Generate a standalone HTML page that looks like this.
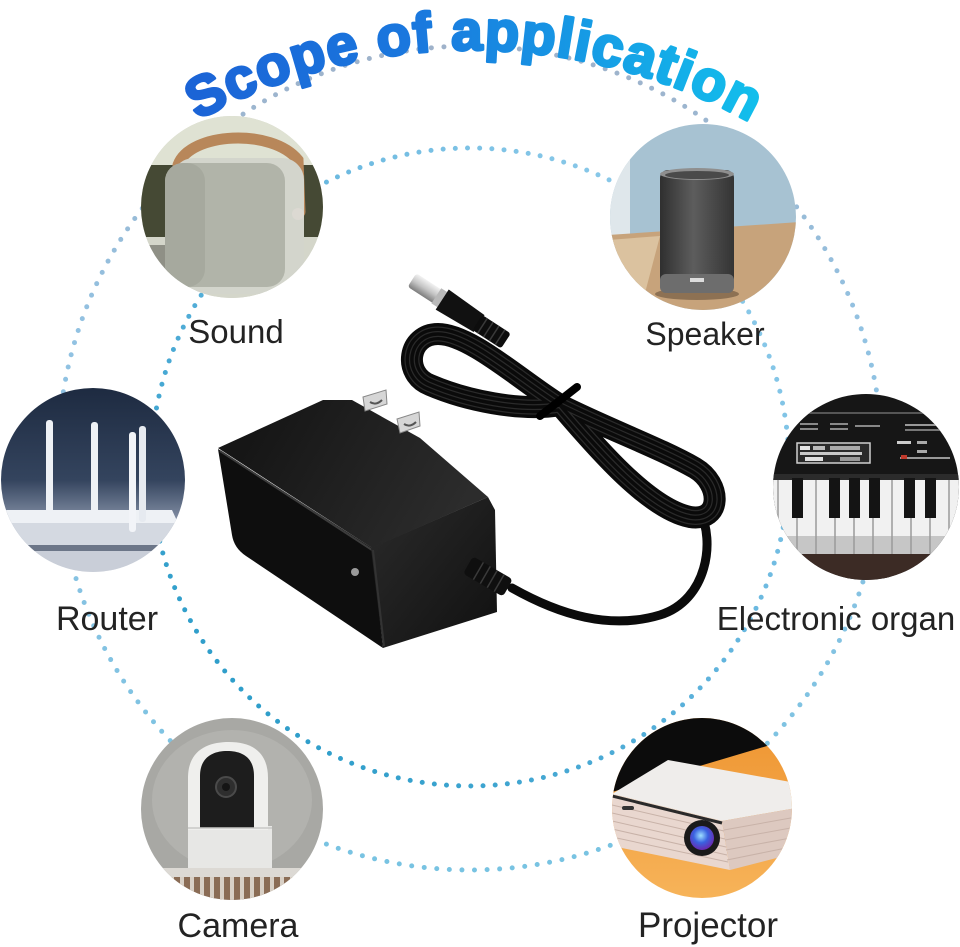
<!DOCTYPE html>
<html><head><meta charset="utf-8">
<style>
html,body{margin:0;padding:0;background:#fff;}
svg{display:block;}
.lbl{font-family:"Liberation Sans",Arial,sans-serif;fill:#232323;text-anchor:middle;}
</style></head><body>
<svg width="960" height="947" viewBox="0 0 960 947" xmlns="http://www.w3.org/2000/svg">
<defs>
  <linearGradient id="tg" gradientUnits="userSpaceOnUse" x1="185" y1="0" x2="765" y2="0">
    <stop offset="0" stop-color="#1b63d6"/>
    <stop offset="0.4" stop-color="#1a78de"/>
    <stop offset="1" stop-color="#12c0ec"/>
  </linearGradient>
  <linearGradient id="og" gradientUnits="userSpaceOnUse" x1="0" y1="46" x2="0" y2="870">
    <stop offset="0" stop-color="#9fb2ca"/>
    <stop offset="0.35" stop-color="#92c2e2"/>
    <stop offset="1" stop-color="#78c3e2"/>
  </linearGradient>
  <linearGradient id="ig" gradientUnits="userSpaceOnUse" x1="170" y1="780" x2="790" y2="150">
    <stop offset="0" stop-color="#1f97c4"/>
    <stop offset="0.5" stop-color="#5db2dc"/>
    <stop offset="1" stop-color="#9dd2ee"/>
  </linearGradient>
  <path id="arc" d="M 145 153 A 570 570 0 0 1 799 153"/>
  <path id="lp" d="M560 405 C520 380 470 334 438 334 C408 334 402 374 430 385 C465 400 520 412 560 405 Z"/>
  <path id="rp" d="M560 405 C610 430 660 448 695 468 C722 484 722 522 690 517 C650 509 600 452 560 405 Z"/>
  <clipPath id="c1"><circle cx="232" cy="207" r="91"/></clipPath>
  <clipPath id="c2"><circle cx="703" cy="217" r="93"/></clipPath>
  <clipPath id="c3"><circle cx="866" cy="487" r="93"/></clipPath>
  <clipPath id="c4"><circle cx="93" cy="480" r="92"/></clipPath>
  <clipPath id="c5"><circle cx="232" cy="809" r="91"/></clipPath>
  <clipPath id="c6"><circle cx="702" cy="808" r="90"/></clipPath>
  <linearGradient id="cyl" x1="0" y1="0" x2="1" y2="0">
    <stop offset="0" stop-color="#2f2f2f"/><stop offset="0.45" stop-color="#5d5d5d"/><stop offset="1" stop-color="#343434"/>
  </linearGradient>
  <linearGradient id="rbg" x1="0" y1="0" x2="0" y2="1">
    <stop offset="0" stop-color="#1d2a40"/><stop offset="0.5" stop-color="#34445e"/><stop offset="0.7" stop-color="#7e8aa0"/><stop offset="1" stop-color="#e0e4ea"/>
  </linearGradient>
  <linearGradient id="topf" gradientUnits="userSpaceOnUse" x1="260" y1="420" x2="450" y2="530">
    <stop offset="0" stop-color="#161616"/><stop offset="1" stop-color="#2c2c2c"/>
  </linearGradient>
  <linearGradient id="endf" gradientUnits="userSpaceOnUse" x1="380" y1="540" x2="495" y2="630">
    <stop offset="0" stop-color="#262626"/><stop offset="1" stop-color="#121212"/>
  </linearGradient>
  <linearGradient id="silv" x1="0" y1="0" x2="0" y2="1">
    <stop offset="0" stop-color="#f2f2f2"/><stop offset="0.5" stop-color="#c4c4c4"/><stop offset="1" stop-color="#7d7d7d"/>
  </linearGradient>
  <radialGradient id="lens" cx="0.45" cy="0.4" r="0.6">
    <stop offset="0" stop-color="#9fe0ff"/><stop offset="0.5" stop-color="#3a62e0"/><stop offset="1" stop-color="#6a2ab0"/>
  </radialGradient>
  <linearGradient id="pbg" x1="0" y1="0" x2="0" y2="1">
    <stop offset="0" stop-color="#ee9430"/><stop offset="1" stop-color="#f7b45a"/>
  </linearGradient>
</defs>

<rect width="960" height="947" fill="#fff"/>

<!-- dotted rings -->
<circle cx="470" cy="458" r="412" fill="none" stroke="url(#og)" stroke-width="5" stroke-linecap="round" stroke-dasharray="0 12.6"/>
<circle cx="470" cy="467" r="319" fill="none" stroke="url(#ig)" stroke-width="5" stroke-linecap="round" stroke-dasharray="0 12.2"/>

<!-- Sound -->
<g clip-path="url(#c1)">
  <rect x="140" y="115" width="185" height="185" fill="#cfd2c2"/>
  <rect x="140" y="115" width="185" height="50" fill="#dfe2d3"/>
  <rect x="140" y="165" width="185" height="72" fill="#454934"/>
  <rect x="140" y="237" width="185" height="63" fill="#d4d6ca"/>
  <rect x="145" y="245" width="30" height="30" fill="#8f9086"/>
  <path d="M178 165 C190 132 272 128 298 160 L300 212" fill="none" stroke="#b8875a" stroke-width="11" stroke-linecap="round"/>
  <rect x="172" y="158" width="132" height="136" rx="22" fill="#d3d5cc"/>
  <rect x="165" y="163" width="120" height="124" rx="18" fill="#b1b4a9"/>
  <rect x="165" y="163" width="40" height="124" rx="18" fill="#a6a99e"/>
  <circle cx="298" cy="214" r="6" fill="#dcd9d2"/>
</g>

<!-- Speaker -->
<g clip-path="url(#c2)">
  <rect x="608" y="122" width="190" height="190" fill="#a7c2d2"/>
  <rect x="608" y="160" width="22" height="75" fill="#dfe7eb"/>
  <polygon points="608,235 800,222 800,312 608,312" fill="#c7a37b"/>
  <polygon points="608,240 660,236 640,312 608,312" fill="#dbc29f"/>
  <ellipse cx="697" cy="294" rx="42" ry="6" fill="#8d7153"/>
  <rect x="660" y="170" width="74" height="123" rx="8" fill="url(#cyl)"/>
  <ellipse cx="697" cy="174" rx="37" ry="6" fill="#8f8f8f"/>
  <ellipse cx="697" cy="175" rx="32" ry="4" fill="#4a4a4a"/>
  <rect x="660" y="274" width="74" height="19" rx="6" fill="#6d6d6d"/>
  <rect x="690" y="278" width="14" height="4" fill="#dcdcdc"/>
</g>

<!-- Electronic organ -->
<g clip-path="url(#c3)">
  <rect x="770" y="392" width="192" height="192" fill="#161616"/>
  <rect x="790" y="412" width="160" height="2" fill="#555"/>
  <rect x="800" y="423" width="18" height="2" fill="#888"/>
  <rect x="800" y="428" width="18" height="2" fill="#888"/>
  <rect x="830" y="423" width="18" height="2" fill="#888"/>
  <rect x="830" y="428" width="18" height="2" fill="#888"/>
  <rect x="855" y="425" width="25" height="2" fill="#888"/>
  <rect x="905" y="424" width="40" height="2" fill="#999"/>
  <rect x="905" y="429" width="40" height="2" fill="#777"/>
  <rect x="797" y="443" width="73" height="20" fill="#2a2a2a" stroke="#cfcfcf" stroke-width="1.5"/>
  <rect x="800" y="446" width="10" height="4" fill="#e5e5e5"/>
  <rect x="813" y="446" width="12" height="4" fill="#bbb"/>
  <rect x="830" y="446" width="30" height="4" fill="#aaa"/>
  <rect x="800" y="452" width="62" height="3" fill="#c9c9c9"/>
  <rect x="805" y="457" width="18" height="4" fill="#e0e0e0"/>
  <rect x="840" y="457" width="20" height="4" fill="#999"/>
  <rect x="897" y="441" width="14" height="3" fill="#ccc"/>
  <rect x="917" y="441" width="10" height="3" fill="#aaa"/>
  <rect x="917" y="450" width="10" height="3" fill="#aaa"/>
  <rect x="900" y="457" width="50" height="2" fill="#999"/>
  <rect x="901" y="455" width="6" height="4" fill="#c0392b"/>
  <rect x="770" y="474" width="192" height="6" fill="#2b2b2b"/>
  <rect x="770" y="480" width="192" height="56" fill="#f1f1f1"/>
  <rect x="770" y="536" width="192" height="18" fill="#c6c6c6"/>
  <g stroke="#9a9a9a" stroke-width="1.5">
    <line x1="778" y1="480" x2="778" y2="554"/><line x1="797" y1="480" x2="797" y2="554"/>
    <line x1="816" y1="480" x2="816" y2="554"/><line x1="835" y1="480" x2="835" y2="554"/>
    <line x1="854" y1="480" x2="854" y2="554"/><line x1="873" y1="480" x2="873" y2="554"/>
    <line x1="892" y1="480" x2="892" y2="554"/><line x1="911" y1="480" x2="911" y2="554"/>
    <line x1="930" y1="480" x2="930" y2="554"/><line x1="949" y1="480" x2="949" y2="554"/>
  </g>
  <g fill="#141414">
    <rect x="792" y="478" width="11" height="40"/><rect x="829" y="478" width="11" height="40"/>
    <rect x="849" y="478" width="11" height="40"/><rect x="869" y="478" width="11" height="40"/>
    <rect x="904" y="478" width="11" height="40"/><rect x="925" y="478" width="11" height="40"/>
  </g>
  <rect x="770" y="554" width="192" height="30" fill="#3c2b25"/>
</g>

<!-- Router -->
<g clip-path="url(#c4)">
  <rect x="0" y="386" width="186" height="188" fill="url(#rbg)"/>
  <rect x="46" y="420" width="7" height="95" rx="3" fill="#eef1f5"/>
  <rect x="91" y="422" width="7" height="92" rx="3" fill="#eef1f5"/>
  <polygon points="6,510 172,510 178,523 2,525" fill="#eef1f5"/>
  <rect x="2" y="523" width="176" height="22" fill="#d4d9e1"/>
  <rect x="8" y="545" width="172" height="6" fill="#6c7688"/>
  <rect x="0" y="551" width="186" height="25" fill="#c9ced8"/>
  <rect x="129" y="432" width="7" height="100" rx="3" fill="#f2f4f8"/>
  <rect x="139" y="426" width="7" height="96" rx="3" fill="#e6eaf0"/>
</g>

<!-- Camera -->
<g clip-path="url(#c5)">
  <rect x="140" y="716" width="186" height="186" fill="#a8a8a4"/>
  <ellipse cx="232" cy="800" rx="80" ry="70" fill="#b2b2ae"/>
  <rect x="188" y="826" width="84" height="44" fill="#e7e7e5"/>
  <path d="M188 830 L188 778 C188 750 208 742 229 742 C252 742 268 752 268 778 L268 830 Z" fill="#efefed"/>
  <path d="M200 828 L200 776 C200 758 212 751 227 751 C243 751 254 758 254 776 L254 828 Z" fill="#1d1d1d"/>
  <circle cx="226" cy="787" r="10" fill="#2e2e2e" stroke="#4a4a4a" stroke-width="2"/>
  <circle cx="226" cy="787" r="4" fill="#151515"/>
  <line x1="188" y1="828" x2="272" y2="828" stroke="#c9c9c7" stroke-width="1.5"/>
  <rect x="140" y="868" width="186" height="9" fill="#dcd9d4"/>
  <rect x="140" y="877" width="186" height="30" fill="#8a6c55"/>
  <g fill="#d8d0c6">
    <rect x="150" y="877" width="4" height="30"/><rect x="160" y="877" width="4" height="30"/>
    <rect x="170" y="877" width="4" height="30"/><rect x="180" y="877" width="4" height="30"/>
    <rect x="190" y="877" width="4" height="30"/><rect x="200" y="877" width="4" height="30"/>
    <rect x="210" y="877" width="4" height="30"/><rect x="220" y="877" width="4" height="30"/>
    <rect x="230" y="877" width="4" height="30"/><rect x="240" y="877" width="4" height="30"/>
    <rect x="250" y="877" width="4" height="30"/><rect x="260" y="877" width="4" height="30"/>
    <rect x="270" y="877" width="4" height="30"/><rect x="280" y="877" width="4" height="30"/>
    <rect x="290" y="877" width="4" height="30"/><rect x="300" y="877" width="4" height="30"/>
  </g>
</g>

<!-- Projector -->
<g clip-path="url(#c6)">
  <rect x="610" y="716" width="186" height="186" fill="url(#pbg)"/>
  <polygon points="610,716 796,716 796,738 767,746 612,792" fill="#0c0c0c"/>
  <polygon points="612,794 668,760 796,783 796,808 722,821" fill="#efedeb"/>
  <polygon points="612,794 722,821 730,870 612,846" fill="#e9d7cf"/>
  <polygon points="722,821 796,808 796,853 730,870" fill="#ddc9c0"/>
  <g stroke="#c8b2a8" stroke-width="1">
    <line x1="612" y1="805" x2="724" y2="831"/><line x1="612" y1="813" x2="725" y2="839"/>
    <line x1="612" y1="821" x2="726" y2="847"/><line x1="612" y1="829" x2="727" y2="855"/>
    <line x1="612" y1="837" x2="728" y2="862"/>
    <line x1="724" y1="830" x2="796" y2="817"/><line x1="725" y1="840" x2="796" y2="827"/>
    <line x1="726" y1="850" x2="796" y2="837"/><line x1="727" y1="860" x2="796" y2="846"/>
  </g>
  <line x1="612" y1="796" x2="722" y2="823" stroke="#2a2a2a" stroke-width="3"/>
  <rect x="622" y="806" width="12" height="4" rx="2" fill="#333"/>
  <circle cx="702" cy="838" r="18" fill="#1a1a1a"/>
  <circle cx="702" cy="838" r="12" fill="url(#lens)"/>
</g>

<!-- Cable bundle -->
<g fill="none" stroke-linecap="round" stroke-linejoin="round">
  <path d="M700 512 C715 540 708 600 660 615 C610 630 560 615 512 588" stroke="#0b0b0b" stroke-width="9"/>
  <use href="#lp" stroke="#0a0a0a" stroke-width="22"/>
  <use href="#rp" stroke="#0a0a0a" stroke-width="22"/>
  <use href="#lp" stroke="#2a2a2a" stroke-width="15"/>
  <use href="#rp" stroke="#2a2a2a" stroke-width="15"/>
  <use href="#lp" stroke="#0a0a0a" stroke-width="12.5"/>
  <use href="#rp" stroke="#0a0a0a" stroke-width="12.5"/>
  <use href="#lp" stroke="#2a2a2a" stroke-width="6"/>
  <use href="#rp" stroke="#2a2a2a" stroke-width="6"/>
  <use href="#lp" stroke="#0a0a0a" stroke-width="3.5"/>
  <use href="#rp" stroke="#0a0a0a" stroke-width="3.5"/>
  <line x1="540" y1="416" x2="577" y2="387" stroke="#000" stroke-width="8"/>
</g>

<!-- DC plug -->
<g transform="translate(412,280) rotate(33)">
  <rect x="0" y="-8" width="32" height="16" rx="3" fill="url(#silv)"/>
  <rect x="29" y="-9" width="7" height="18" fill="#b9b9b9"/>
  <path d="M36 -12 L80 -10 L80 10 L36 12 Z" fill="#111"/>
  <rect x="78" y="-9" width="34" height="18" rx="3" fill="#0d0d0d"/>
  <g stroke="#3a3a3a" stroke-width="1.5">
    <line x1="84" y1="-9" x2="84" y2="9"/><line x1="91" y1="-9" x2="91" y2="9"/>
    <line x1="98" y1="-9" x2="98" y2="9"/><line x1="105" y1="-9" x2="105" y2="9"/>
  </g>
</g>

<!-- Adapter -->
<polygon points="218,448 323,400 352,400 420,438 488,497 372,548" fill="url(#topf)"/>
<path d="M218 449 L372 548 L383 648 L246 556 Q234 548 232 535 Z" fill="#0e0e0e"/>
<line x1="220" y1="451" x2="372" y2="550" stroke="#3c3c3c" stroke-width="2"/>
<polygon points="371,548 488,497 495,510 497,612 383,648" fill="url(#endf)"/>
<line x1="373" y1="550" x2="384" y2="646" stroke="#333" stroke-width="2"/>
<circle cx="355" cy="572" r="4" fill="#9a9a9a"/>
<polygon points="363,397 386,390 387,404 365,411" fill="#d6d6d6" stroke="#888" stroke-width="1"/>
<path d="M370 402 q6 4 12 -2" stroke="#555" stroke-width="2" fill="none"/>
<polygon points="397,419 419,412 420,426 400,433" fill="#d6d6d6" stroke="#888" stroke-width="1"/>
<path d="M404 424 q6 4 12 -2" stroke="#555" stroke-width="2" fill="none"/>
<g transform="translate(468,565) rotate(30)">
  <rect x="0" y="-10" width="46" height="20" rx="4" fill="#0f0f0f"/>
  <g stroke="#3a3a3a" stroke-width="1.5">
    <line x1="12" y1="-10" x2="12" y2="10"/><line x1="20" y1="-10" x2="20" y2="10"/>
    <line x1="28" y1="-10" x2="28" y2="10"/><line x1="36" y1="-10" x2="36" y2="10"/>
  </g>
</g>

<!-- Labels -->
<text class="lbl" x="236" y="343" font-size="33">Sound</text>
<text class="lbl" x="705" y="345" font-size="32">Speaker</text>
<text class="lbl" x="107" y="630" font-size="34">Router</text>
<text class="lbl" x="836" y="630" font-size="33">Electronic organ</text>
<text class="lbl" x="238" y="937" font-size="34">Camera</text>
<text class="lbl" x="708" y="937" font-size="35">Projector</text>

<!-- Title -->
<text font-family="Liberation Sans, Arial, sans-serif" font-weight="bold" font-size="56" letter-spacing="1.5" fill="url(#tg)" stroke="url(#tg)" stroke-width="3" stroke-linejoin="round"><textPath href="#arc" startOffset="62">Scope of application</textPath></text>
</svg>
</body></html>
